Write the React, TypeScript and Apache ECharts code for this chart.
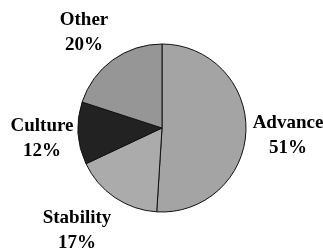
import React, { useEffect, useRef } from "react";
import * as echarts from "echarts";

const categories = ["Advance", "Stability", "Culture", "Other"];
const values = [51, 17, 12, 20];
const colors = ["#a4a4a4", "#ababab", "#222222", "#969696"];
const labelPos: Record<string, [number, number]> = {
  Advance: [288, 134],
  Stability: [77, 229],
  Culture: [42, 137],
  Other: [84, 31],
};

export default function App() {
  const ref = useRef<HTMLDivElement>(null);
  useEffect(() => {
    const chart = echarts.init(ref.current!, null, { renderer: "svg" });
    const total = values.reduce((a, b) => a + b, 0);
    const texts: any[] = [];
    categories.forEach((c, i) => {
      const lines = [c, Math.round((values[i] / total) * 100) + "%"];
      lines.forEach((t, k) => {
        texts.push({
          type: "text",
          x: labelPos[c][0],
          y: labelPos[c][1] + (k === 0 ? -12.5 : 12.5),
          style: {
            text: t,
            fontFamily: "serif",
            fontWeight: "bold",
            fontSize: 19,
            fill: "#000",
            align: "center",
            verticalAlign: "middle",
          },
        });
      });
    });
    chart.setOption({
      animation: false,
      graphic: texts,
      series: [
        {
          type: "pie",
          center: [162, 128],
          radius: 84,
          startAngle: 90,
          clockwise: true,
          silent: true,
          data: categories.map((c, i) => ({
            name: c,
            value: values[i],
            itemStyle: { color: colors[i] },
          })),
          itemStyle: { borderColor: "#111111", borderWidth: 1 },
          label: { show: false },
          labelLine: { show: false },
        },
      ],
    });
    return () => chart.dispose();
  }, []);
  return (
    <div
      ref={ref}
      style={{ position: "fixed", left: 0, top: 0, width: 323, height: 249 }}
    />
  );
}
